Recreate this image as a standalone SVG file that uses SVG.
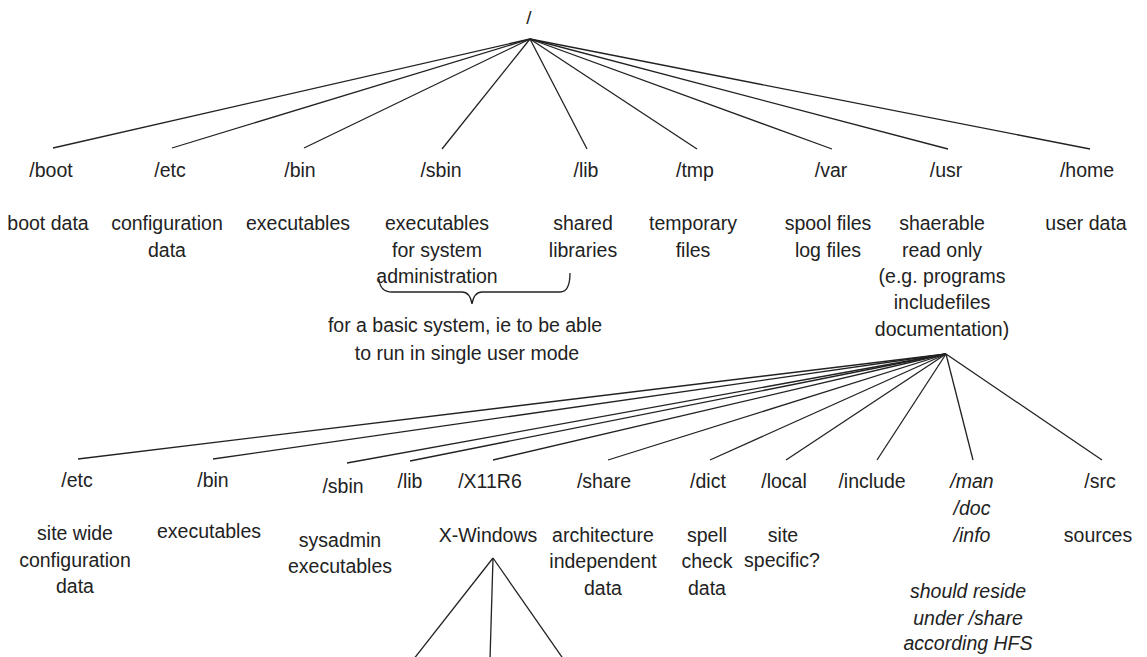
<svg xmlns="http://www.w3.org/2000/svg" width="1147" height="657" viewBox="0 0 1147 657">
<style>
text{font-family:"Liberation Sans",Arial,sans-serif;font-size:19.5px;fill:#222;text-anchor:middle}
.it{font-style:italic}
.root{font-size:19px}
.c line,.c path{stroke:#222;stroke-width:1.3;fill:none}
</style>
<rect width="1147" height="657" fill="#fff"/>
<g class="c" id="connectors">
<line x1="530" y1="39" x2="53" y2="148"/>
<line x1="530" y1="39" x2="172" y2="148"/>
<line x1="530" y1="39" x2="304" y2="148"/>
<line x1="530" y1="39" x2="442" y2="149"/>
<line x1="530" y1="39" x2="587" y2="149"/>
<line x1="530" y1="39" x2="697" y2="149"/>
<line x1="530" y1="39" x2="832" y2="149"/>
<line x1="530" y1="39" x2="948" y2="149"/>
<line x1="530" y1="39" x2="1090" y2="149"/>
<line x1="946" y1="354" x2="78" y2="459"/>
<line x1="946" y1="354" x2="213" y2="459"/>
<line x1="946" y1="354" x2="347" y2="463"/>
<line x1="946" y1="354" x2="410" y2="461"/>
<line x1="946" y1="354" x2="493" y2="460"/>
<line x1="946" y1="354" x2="608" y2="460"/>
<line x1="946" y1="354" x2="710" y2="460"/>
<line x1="946" y1="354" x2="786" y2="460"/>
<line x1="946" y1="354" x2="877" y2="460"/>
<line x1="946" y1="354" x2="973" y2="460"/>
<line x1="946" y1="354" x2="1102" y2="460"/>
<line x1="493" y1="558" x2="413" y2="660"/>
<line x1="493" y1="558" x2="490" y2="660"/>
<line x1="493" y1="558" x2="564" y2="660"/>
<path d="M379,279 Q380,292 392,292 L462,292 Q470,292 472,304 Q474,292 482,292 L560,292 Q570,292 570,273"/>
</g>
<g id="root"><text class="root" x="529" y="24">/</text></g>
<g id="boot"><text x="51" y="177">/boot</text><text x="48" y="230">boot data</text></g>
<g id="etc"><text x="170" y="177">/etc</text><text x="167" y="230">configuration</text><text x="167" y="257">data</text></g>
<g id="bin"><text x="300" y="177">/bin</text><text x="298" y="230">executables</text></g>
<g id="sbin"><text x="441" y="177">/sbin</text><text x="437" y="230">executables</text><text x="437" y="257">for system</text><text x="437" y="283">administration</text></g>
<g id="lib"><text x="586" y="177">/lib</text><text x="583" y="230">shared</text><text x="583" y="257">libraries</text></g>
<g id="tmp"><text x="695" y="177">/tmp</text><text x="693" y="230">temporary</text><text x="693" y="257">files</text></g>
<g id="var"><text x="831" y="177">/var</text><text x="828" y="230">spool files</text><text x="828" y="257">log files</text></g>
<g id="usr"><text x="946" y="177">/usr</text><text x="942" y="230">shaerable</text><text x="942" y="257">read only</text><text x="942" y="283">(e.g. programs</text><text x="942" y="309">includefiles</text><text x="942" y="336">documentation)</text></g>
<g id="home"><text x="1087" y="177">/home</text><text x="1086" y="230">user data</text></g>
<g id="basic-note"><text x="465" y="332">for a basic system, ie to be able</text><text x="467" y="360">to run in single user mode</text></g>
<g id="usr-etc"><text x="77" y="487">/etc</text><text x="75" y="540">site wide</text><text x="75" y="567">configuration</text><text x="75" y="593">data</text></g>
<g id="usr-bin"><text x="213" y="487">/bin</text><text x="209" y="538">executables</text></g>
<g id="usr-sbin"><text x="343" y="493">/sbin</text><text x="340" y="547">sysadmin</text><text x="340" y="573">executables</text></g>
<g id="usr-lib"><text x="410" y="488">/lib</text></g>
<g id="usr-x11r6"><text x="490" y="488">/X11R6</text><text x="488" y="542">X-Windows</text></g>
<g id="usr-share"><text x="604" y="488">/share</text><text x="603" y="542">architecture</text><text x="603" y="568">independent</text><text x="603" y="595">data</text></g>
<g id="usr-dict"><text x="708" y="488">/dict</text><text x="707" y="542">spell</text><text x="707" y="568">check</text><text x="707" y="595">data</text></g>
<g id="usr-local"><text x="784" y="488">/local</text><text x="783" y="542">site</text><text x="782" y="567">specific?</text></g>
<g id="usr-include"><text x="872" y="488">/include</text></g>
<g id="usr-man"><text class="it" x="972" y="488">/man</text><text class="it" x="972" y="515">/doc</text><text class="it" x="972" y="542">/info</text><text class="it" x="968" y="598">should reside</text><text class="it" x="968" y="625">under /share</text><text class="it" x="968" y="650">according HFS</text></g>
<g id="usr-src"><text x="1100" y="488">/src</text><text x="1098" y="542">sources</text></g>
</svg>
